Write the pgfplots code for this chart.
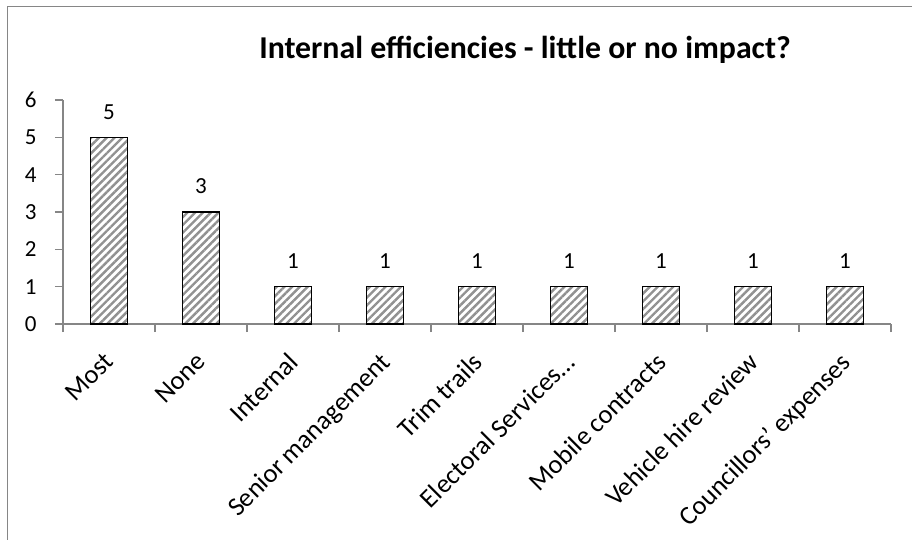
\documentclass[border=0pt]{standalone}
\usepackage{fontspec}
\setmainfont{Carlito}
\usepackage{pgfplots}
\pgfplotsset{compat=1.18}
\usetikzlibrary{patterns.meta}
\definecolor{axisgray}{RGB}{134,134,134}
\definecolor{stripegray}{RGB}{145,145,145}
\begin{document}
\begin{tikzpicture}
\useasboundingbox (-63pt,-216pt) rectangle (849pt,324pt);
\draw[axisgray, line width=1.5pt] (-55.5pt,-216pt) -- (-55.5pt,317.5pt) -- (849pt,317.5pt);
\node[font=\bfseries\fontsize{31.8}{36}\selectfont] at (462pt,274pt) {Internal efficiencies - little or no impact?};
\begin{axis}[
    at={(0pt,0pt)}, anchor=south west,
    scale only axis,
    width=828pt, height=224pt,
    ybar, bar width=37pt,
    xmin=-0.5, xmax=8.5,
    ymin=0, ymax=6,
    axis x line*=bottom, axis y line*=left,
    axis line style={axisgray, line width=1.2pt},
    tick align=outside,
    major tick length=8pt, minor tick length=8pt,
    tick style={axisgray, line width=1.2pt},
    major x tick style={draw=none},
    xtick={0,...,8},
    minor xtick={-0.5,0.5,...,8.5},
    ytick={0,...,6},
    /pgf/number format/assume math mode=true,
    xticklabels={Most, None, Internal, Senior management, Trim trails,
                 {Electoral Services\ldots}, Mobile contracts, Vehicle hire review,
                 Councillors' expenses},
    xticklabel style={xshift=-6pt, yshift=-16pt, rotate=45, anchor=north east,
                      font=\fontsize{26.5}{31}\selectfont, inner sep=2pt},
    yticklabel style={font=\fontsize{23}{27}\selectfont, xshift=-15pt},
    nodes near coords,
    every node near coord/.append style={font=\fontsize{23}{27}\selectfont, yshift=14pt, black},
]
\addplot[draw=black, line width=1.5pt,
    pattern={Lines[angle=45,distance=5.5pt,line width=2.4pt]}, pattern color=stripegray]
coordinates {(0,5) (1,3) (2,1) (3,1) (4,1) (5,1) (6,1) (7,1) (8,1)};
\end{axis}
\end{tikzpicture}
\end{document}
